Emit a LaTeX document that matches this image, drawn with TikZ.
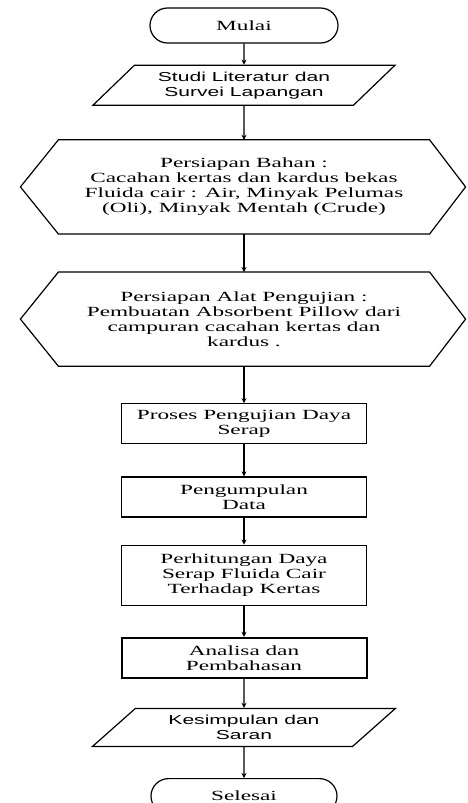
\documentclass[tikz,border=0pt]{standalone}
\usepackage{fontspec}
\setmainfont{Liberation Serif}[FakeStretch=1.66]
\newfontfamily\sansfont{Liberation Sans}[FakeStretch=1.62]
\usepackage{tikz}
\usetikzlibrary{positioning, arrows.meta, shapes.geometric, shapes.misc}
\tikzset{
  box/.style={draw, line width=1.2pt, align=center, font=\fontsize{14}{15}\selectfont, inner sep=2pt},
  terminal/.style={box, rounded rectangle, minimum width=192pt, minimum height=35pt},
  io/.style={box, trapezium, trapezium left angle=43, trapezium right angle=137, trapezium stretches=true,
    minimum width=303pt, minimum height=40pt, font=\sansfont\fontsize{13}{15}\selectfont},
  prep/.style={box, draw=none, rectangle, minimum width=370pt, minimum height=93pt},
  process/.style={box, rectangle, minimum width=245pt, minimum height=40pt},
  flow/.style={-{Stealth[length=5pt, width=5pt]}, line width=1.2pt},
}
\begin{document}
\begin{tikzpicture}[x=1pt, y=1pt, node distance=31pt]
  \useasboundingbox (0,0) rectangle (468,-803);
  \node[terminal] (mulai) at (244,-25.5) {Mulai};
  \node[io, below=21pt of mulai] (studi) {Studi Literatur dan\\Survei Lapangan};
  \node[prep, below=34pt of studi] (bahan) {Persiapan Bahan :\\Cacahan kertas dan kardus bekas\\Fluida cair : Air, Minyak Pelumas\\(Oli), Minyak Mentah (Crude)};
  \node[prep, below=38pt of bahan] (alat) {Persiapan Alat Pengujian :\\Pembuatan Absorbent Pillow dari\\campuran cacahan kertas dan\\kardus .};
  \node[process, below=37pt of alat] (uji) {Proses Pengujian Daya\\Serap};
  \node[process, below=32pt of uji] (data) {Pengumpulan\\Data};
  \node[process, below=27pt of data, minimum height=60pt] (hitung) {Perhitungan Daya\\Serap Fluida Cair\\Terhadap Kertas};
  \node[process, below=of hitung, line width=2pt] (analisa) {Analisa dan\\Pembahasan};
  \node[io, below=29pt of analisa, minimum height=38pt] (saran) {Kesimpulan dan\\Saran};
  \node[terminal, below=of saran, minimum width=190pt] (selesai) {Selesai};
  % hexagon outline of the preparation steps
  \foreach \n in {bahan, alat}
    \draw[line width=1.2pt] (\n.north west) -- ([xshift=-38pt]\n.west) -- (\n.south west) -- (\n.south east) -- ([xshift=36pt]\n.east) -- (\n.north east) -- cycle;
  \foreach \a/\b in {mulai/studi, studi/bahan, bahan/alat, alat/uji, uji/data, data/hitung, hitung/analisa, analisa/saran, saran/selesai}
    \draw[flow] (\a) -- (\b);
\end{tikzpicture}
\end{document}
